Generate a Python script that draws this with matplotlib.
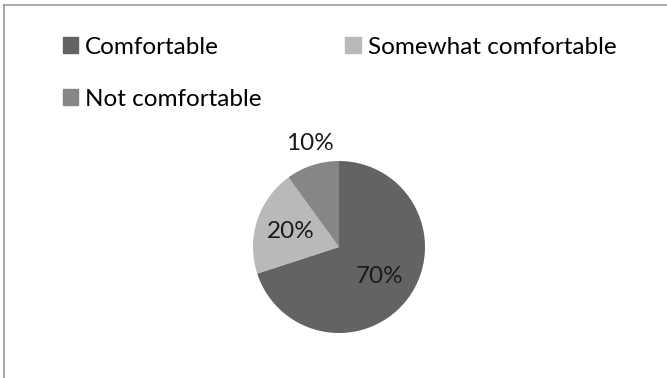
import matplotlib
matplotlib.use("Agg")
import matplotlib.pyplot as plt
from matplotlib.patches import Patch
from matplotlib.lines import Line2D

categories = ["Comfortable", "Somewhat comfortable", "Not comfortable"]
shares = [70, 20, 10]
colors = ["#636363", "#b9b9b9", "#868686"]

plt.rcParams["font.family"] = ["Lato", "DejaVu Sans"]

W, H = 667, 378
fig = plt.figure(figsize=(W / 100, H / 100), dpi=100)
# chart area border, only top and left edges are visible in the crop
fig.lines.append(Line2D([4 / W, 4 / W], [0, 1 - 5 / H], transform=fig.transFigure,
                        color="#9a9a9a", lw=1.2))
fig.lines.append(Line2D([4 / W, 1], [1 - 5 / H, 1 - 5 / H], transform=fig.transFigure,
                        color="#9a9a9a", lw=1.2))

ax = fig.add_axes([253 / W, 45 / H, 172 / W, 172 / H])
wedges, texts, autotexts = ax.pie(shares, colors=colors, startangle=90, counterclock=False,
                                  autopct="%d%%", pctdistance=0.59,
                                  textprops=dict(fontsize=17.5, color="#1a1a1a"))
# small slice label sits outside the pie
autotexts[2].set_position((-0.34, 1.2))
ax.set_xlim(-1, 1); ax.set_ylim(-1, 1)
ax.set_aspect("equal")

# row-major legend order: legend fills column-wise, so reorder
order = [0, 2, 1]
handles = [Patch(color=colors[i]) for i in order]
labels = [categories[i] for i in order]
fig.legend(handles, labels, loc="upper left", bbox_to_anchor=(63 / W, 1 - 36.5 / H),
           ncol=2, frameon=False, fontsize=17.5, handlelength=0.62, handleheight=0.62,
           handletextpad=0.29, columnspacing=3.45, labelspacing=1.28,
           borderpad=0, borderaxespad=0)

fig.savefig("out.png", dpi=100)
